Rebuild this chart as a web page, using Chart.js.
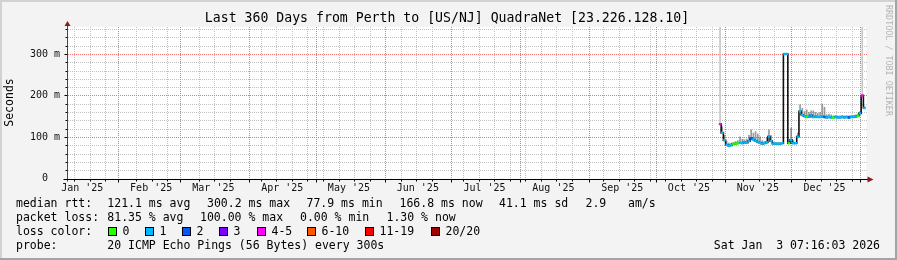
<!DOCTYPE html>
<html>
<head>
<meta charset="utf-8">
<script src="https://cdn.jsdelivr.net/npm/chart.js@4.4.1/dist/chart.umd.min.js"></script>
<style>
  html, body { margin: 0; padding: 0; background: #f3f3f3; }
  canvas { display: block; }
</style>
</head>
<body>
<canvas id="myChart" width="897" height="260"></canvas>
<script>
// X values are days since 1 Jan 2025; the graph covers 360 days up to 3 Jan 2026.
const axisStart = 7.9;
const axisEnd = 367.9;

// Month start days (major grid) and the month labels, placed half a month in.
const monthStarts = [0, 31, 59, 90, 120, 151, 181, 212, 243, 273, 304, 334, 365];
const monthLabels = ["Jan '25", "Feb '25", "Mar '25", "Apr '25", "May '25", "Jun '25",
  "Jul '25", "Aug '25", "Sep '25", "Oct '25", "Nov '25", "Dec '25"];
const firstWeekLine = 11.3;

// Y axis, in milliseconds
const yMax = 365;
const yTicks = [0, 100, 200, 300];
const yTickLabels = ["0  ", "100 m", "200 m", "300 m"];

// One sample per day, only the last two months have replies
const days = [302, 303, 304, 305, 306, 307, 308, 309, 310, 311, 312, 313, 314, 315, 316, 317,
  318, 319, 320, 321, 322, 323, 324, 325, 326, 327, 328, 329, 330, 331, 332, 333, 334, 335,
  336, 337, 338, 339, 340, 341, 342, 343, 344, 345, 346, 347, 348, 349, 350, 351, 352, 353,
  354, 355, 356, 357, 358, 359, 360, 361, 362, 363, 364, 365, 366, 367];
const medianMs = [131, 110, 92, 81, 79, 80, 83, 84, 85, 86, 85, 87, 86, 90, 97, 94,
  91, 88, 86, 84, 85, 87, 101, 90, 84, 84, 84, 84, 85, 300, 300, 85, 93, 85,
  85, 101, 162, 153, 150, 148, 149, 152, 148, 149, 148, 148, 149, 148, 147, 148, 147, 147,
  148, 147, 147, 148, 147, 148, 147, 148, 148, 149, 151, 157, 200, 170];
const smokeTopMs = [365, 125, 105, 90, 86, 86, 88, 90, 92, 101, 95, 94, 96, 105, 118, 110,
  114, 108, 101, 92, 90, 100, 118, 104, 88, 87, 86, 86, 88, 302, 302, 90, 122, 92,
  88, 110, 178, 170, 162, 166, 160, 164, 164, 160, 158, 160, 180, 172, 155, 156, 154, 152,
  153, 152, 152, 153, 152, 152, 152, 153, 153, 154, 156, 162, 365, 174];
// index into lossLabels / lossColors
const lossClass = [4, 1, 1, 1, 1, 1, 0, 0, 0, 1, 1, 1, 1, 1, 2, 1,
  1, 1, 1, 1, 1, 1, 1, 1, 1, 1, 1, 1, 1, 1, 1, 0, 1, 1,
  1, 1, 1, 1, 1, 0, 1, 1, 1, 1, 1, 1, 1, 2, 1, 1, 1, 0,
  1, 1, 1, 1, 1, 1, 2, 1, 1, 1, 0, 1, 4, 1];

const lossLabels = ["0", "1", "2", "3", "4-5", "6-10", "11-19", "20/20"];
const lossColors = ["#26ff00", "#00b8ff", "#0059ff", "#7e00ff", "#ff00ff", "#ff5500", "#ff0000", "#a10000"];

const MONO = '"DejaVu Sans Mono", monospace';

function weekLines() {
  // weekly lines; rrdtool leaves out the ones too close to a month line
  const out = [];
  for (let d = firstWeekLine; d < axisEnd; d += 7) {
    if (!monthStarts.some(m => Math.abs(m - d) < 2)) out.push(d);
  }
  return out;
}

// dotted 1px lines, one pixel on / one off
function dotsV(ctx, px, top, bottom) {
  for (let py = top; py < bottom; py += 2) ctx.fillRect(px, py, 1, 1);
}
function dotsH(ctx, py, left, right) {
  for (let px = left; px < right; px += 2) ctx.fillRect(px, py, 1, 1);
}

// draws grid, axes, arrows and the text block rrdtool puts around the plot
const rrdFrame = {
  id: "rrdFrame",
  beforeDraw(chart) {
    const ctx = chart.ctx;
    const a = chart.chartArea;
    ctx.save();
    ctx.fillStyle = "#f3f3f3";
    ctx.fillRect(0, 0, 897, 260);
    // 3d border
    ctx.fillStyle = "#d2d2d2";
    ctx.fillRect(0, 0, 897, 2);
    ctx.fillRect(0, 0, 2, 260);
    ctx.fillStyle = "#a4a4a4";
    ctx.fillRect(0, 258, 897, 2);
    ctx.fillRect(895, 0, 2, 260);
    ctx.fillStyle = "#ffffff";
    ctx.fillRect(a.left, a.top, a.right - a.left, a.bottom - a.top);
    ctx.restore();
  },
  beforeDatasetsDraw(chart) {
    const ctx = chart.ctx;
    const a = chart.chartArea;
    const x = chart.scales.x;
    const y = chart.scales.y;
    const left = Math.round(a.left) + 1;
    const right = Math.round(a.right);
    const top = Math.round(a.top);
    const bottom = Math.round(a.bottom);
    ctx.save();
    // minor grid: weeks and every 20 ms
    ctx.fillStyle = "#c2c2c2";
    weekLines().forEach(d => dotsV(ctx, Math.round(x.getPixelForValue(d)), top, bottom));
    for (let v = 20; v <= yMax; v += 20) {
      if (v % 100 === 0) continue;
      dotsH(ctx, Math.round(y.getPixelForValue(v)), left, right);
    }
    // major grid: months and every 100 ms
    ctx.fillStyle = "#f07272";
    monthStarts.forEach(d => {
      if (d < axisStart) return;
      dotsV(ctx, Math.round(x.getPixelForValue(d)), top, bottom);
    });
    yTicks.forEach(v => {
      if (v === 0) return;
      dotsH(ctx, Math.round(y.getPixelForValue(v)), left, right);
    });
    ctx.restore();
  },
  afterDatasetsDraw(chart) {
    const ctx = chart.ctx;
    const a = chart.chartArea;
    const x = chart.scales.x;
    const y = chart.scales.y;
    const x0 = Math.round(x.getPixelForValue(axisStart)) + 0.5;
    const y0 = Math.round(y.getPixelForValue(0)) + 0.5;
    ctx.save();
    ctx.lineWidth = 1;
    ctx.strokeStyle = "#000";
    ctx.beginPath();
    // small ticks on the axes
    for (let v = 20; v <= yMax; v += 20) {
      const py = Math.round(y.getPixelForValue(v)) + 0.5;
      ctx.moveTo(x0 - (v % 100 === 0 ? 3 : 2), py);
      ctx.lineTo(x0, py);
    }
    weekLines().forEach(d => {
      const px = Math.round(x.getPixelForValue(d)) + 0.5;
      ctx.moveTo(px, y0);
      ctx.lineTo(px, y0 + 2);
    });
    monthStarts.forEach(d => {
      if (d < axisStart) return;
      const px = Math.round(x.getPixelForValue(d)) + 0.5;
      ctx.moveTo(px, y0);
      ctx.lineTo(px, y0 + 3);
    });
    ctx.stroke();
    // axis lines
    ctx.strokeStyle = "#444";
    ctx.beginPath();
    ctx.moveTo(x0, y0 + 2);
    ctx.lineTo(x0, a.top - 1);
    ctx.stroke();
    ctx.strokeStyle = "#000";
    ctx.beginPath();
    ctx.moveTo(x0 - 4, y0);
    ctx.lineTo(a.right + 2, y0);
    ctx.stroke();
    // arrows
    ctx.fillStyle = "#8e1b1b";
    ctx.beginPath();
    ctx.moveTo(x0 - 3, a.top - 1);
    ctx.lineTo(x0 + 3, a.top - 1);
    ctx.lineTo(x0, a.top - 6);
    ctx.closePath();
    ctx.fill();
    ctx.beginPath();
    ctx.moveTo(a.right + 1, y0 - 3);
    ctx.lineTo(a.right + 1, y0 + 3);
    ctx.lineTo(a.right + 7, y0);
    ctx.closePath();
    ctx.fill();
    ctx.restore();
  },
  afterDraw(chart) {
    const ctx = chart.ctx;
    ctx.save();
    ctx.fillStyle = "#000";
    ctx.textBaseline = "middle";

    // title
    ctx.font = "13.2px " + MONO;
    ctx.textAlign = "center";
    ctx.fillText("Last 360 Days from Perth to [US/NJ] QuadraNet [23.226.128.10]", 447, 18.5);

    // y axis title
    ctx.font = "11.5px " + MONO;
    ctx.save();
    ctx.translate(10.5, 102.5);
    ctx.rotate(-Math.PI / 2);
    ctx.fillText("Seconds", 0, 0);
    ctx.restore();

    // watermark on the right
    ctx.save();
    ctx.fillStyle = "#b4b4b4";
    ctx.font = "8.4px " + MONO;
    ctx.translate(888, 5);
    ctx.rotate(Math.PI / 2);
    ctx.textAlign = "left";
    ctx.fillText("RRDTOOL / TOBI OETIKER", 0, 0);
    ctx.restore();

    // legend block
    ctx.font = "11.5px " + MONO;
    ctx.textAlign = "left";
    const rows = [
      [204.5, [[16, "median rtt:"], [107.3, "121.1 ms avg"], [207, "300.2 ms max"], [306.5, "77.9 ms min"],
        [399.5, "166.8 ms now"], [499, "41.1 ms sd"], [585.5, "2.9"], [628, "am/s"]]],
      [218.5, [[16, "packet loss:"], [107.3, "81.35 % avg"], [200, "100.00 % max"], [300, "0.00 % min"],
        [386.5, "1.30 % now"]]],
      [232.5, [[16, "loss color:"]]],
      [246.5, [[16, "probe:"], [107.3, "20 ICMP Echo Pings (56 Bytes) every 300s"]]]
    ];
    rows.forEach(([ry, items]) => items.forEach(([rx, t]) => ctx.fillText(t, rx, ry)));

    // loss color swatches
    const boxX = [108, 145, 182, 219, 257, 307, 365, 431];
    lossLabels.forEach((lab, i) => {
      ctx.fillStyle = lossColors[i];
      ctx.fillRect(boxX[i] + 0.5, 227.5, 8, 8);
      ctx.strokeStyle = "#000";
      ctx.lineWidth = 1;
      ctx.strokeRect(boxX[i] + 0.5, 227.5, 8, 8);
      ctx.fillStyle = "#000";
      ctx.fillText(lab, boxX[i] + 14.5, 232.5);
    });

    ctx.textAlign = "right";
    ctx.fillText("Sat Jan  3 07:16:03 2026", 880, 246.5);
    ctx.restore();
  }
};

function smokeColor(i) {
  // the very tall thin spikes are lighter grey
  return smokeTopMs[i] > 250 && medianMs[i] < 250 ? "#c8c8c8" : "rgba(100,100,100,0.65)";
}

const ctx = document.getElementById("myChart").getContext("2d");

new Chart(ctx, {
  type: "bar",
  data: {
    datasets: [
      {
        // ping spread ("smoke")
        label: "smoke",
        data: days.map((d, i) => ({ x: d, y: [medianMs[i] - 2, smokeTopMs[i]] })),
        backgroundColor: days.map((d, i) => smokeColor(i)),
        borderWidth: 0,
        barPercentage: 0.75,
        categoryPercentage: 1,
        order: 3
      },
      {
        type: "line",
        label: "median rtt",
        data: days.map((d, i) => ({ x: d, y: medianMs[i] })),
        borderColor: "#111",
        borderWidth: 1.6,
        stepped: "middle",
        pointRadius: 0,
        order: 2
      },
      {
        type: "line",
        label: "loss color",
        data: days.map((d, i) => ({ x: d, y: medianMs[i] })),
        showLine: false,
        pointStyle: "line",
        pointRadius: 1.3,
        pointBorderWidth: 2.4,
        pointBorderColor: lossClass.map(c => lossColors[c]),
        pointBackgroundColor: lossClass.map(c => lossColors[c]),
        order: 1
      }
    ]
  },
  options: {
    responsive: false,
    maintainAspectRatio: false,
    animation: false,
    layout: { padding: { top: 27, right: 30.5, bottom: 0, left: 0 } },
    plugins: { legend: { display: false }, tooltip: { enabled: false } },
    scales: {
      x: {
        type: "linear",
        min: axisStart,
        max: axisEnd,
        offset: false,
        grid: { display: false, drawTicks: false },
        border: { display: false },
        afterFit: s => { s.height = 81.5; },
        afterBuildTicks: s => { s.ticks = monthStarts.slice(0, 12).map(d => ({ value: d + 15 })); },
        ticks: {
          autoSkip: false,
          maxRotation: 0,
          padding: 4,
          color: "#111",
          font: { family: MONO, size: 10 },
          callback: (v, i) => monthLabels[i]
        }
      },
      y: {
        min: 0,
        max: yMax,
        grid: { display: false, drawTicks: false },
        border: { display: false },
        afterFit: s => { s.width = 66.5; },
        afterBuildTicks: s => { s.ticks = yTicks.map(v => ({ value: v })); },
        ticks: {
          padding: 6.5,
          color: "#111",
          font: { family: MONO, size: 10 },
          callback: (v, i) => yTickLabels[i]
        }
      }
    }
  },
  plugins: [rrdFrame]
});
</script>
</body>
</html>
